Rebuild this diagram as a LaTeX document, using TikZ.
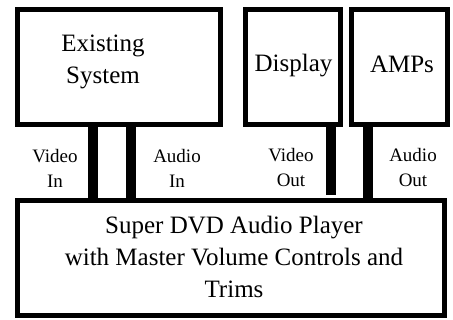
\documentclass[tikz,border=0pt]{standalone}
\usepackage{fontspec}
\setmainfont{Liberation Serif}
\begin{document}
\begin{tikzpicture}[x=1pt,y=1pt,
  box/.style={draw=black,line width=5pt,minimum width=#1,outer sep=0pt,inner sep=0pt},
  big/.style={font=\fontsize{25}{32}\selectfont,align=center,inner sep=0pt},
  small/.style={font=\fontsize{19}{25}\selectfont,align=center,inner sep=0pt},
  bar/.style={line width=10pt,line cap=butt,draw=black}]
\useasboundingbox (0,0) rectangle (453,320);
% boxes
\node[box=203pt,minimum height=115pt] (ex) at (119,253) {};
\node[box=95pt,minimum height=115pt] (disp) at (293,253) {};
\node[box=96pt,minimum height=115pt] (amp) at (399.5,253) {};
\node[box=427pt,minimum height=115pt] (pl) at (231,62) {};
% texts
\node[big] (extxt) at (103,258) {Existing\\System};
\node[big] (disptxt) at (293.5,254) {Display};
\node[big] (amptxt) at (402,256) {AMPs};
\node[big] (pltxt) at (234,63) {Super DVD Audio Player\\with Master Volume Controls and\\Trims};
\node[small] (vin) at (55,152) {Video\\In};
\node[small] (ain) at (177,152) {Audio\\In};
\node[small] (vout) at (291,152) {Video\\Out};
\node[small] (aout) at (413,152) {Audio\\Out};
% connectors
\coordinate (voend) at (331,125);
\draw[bar] (ex.south -| 93,0) -- (pl.north -| 93,0);
\draw[bar] (ex.south -| 131,0) -- (pl.north -| 131,0);
\draw[bar] (disp.south -| voend) -- (voend);
\draw[bar] (amp.south -| 368,0) -- (pl.north -| 368,0);
\end{tikzpicture}
\end{document}
